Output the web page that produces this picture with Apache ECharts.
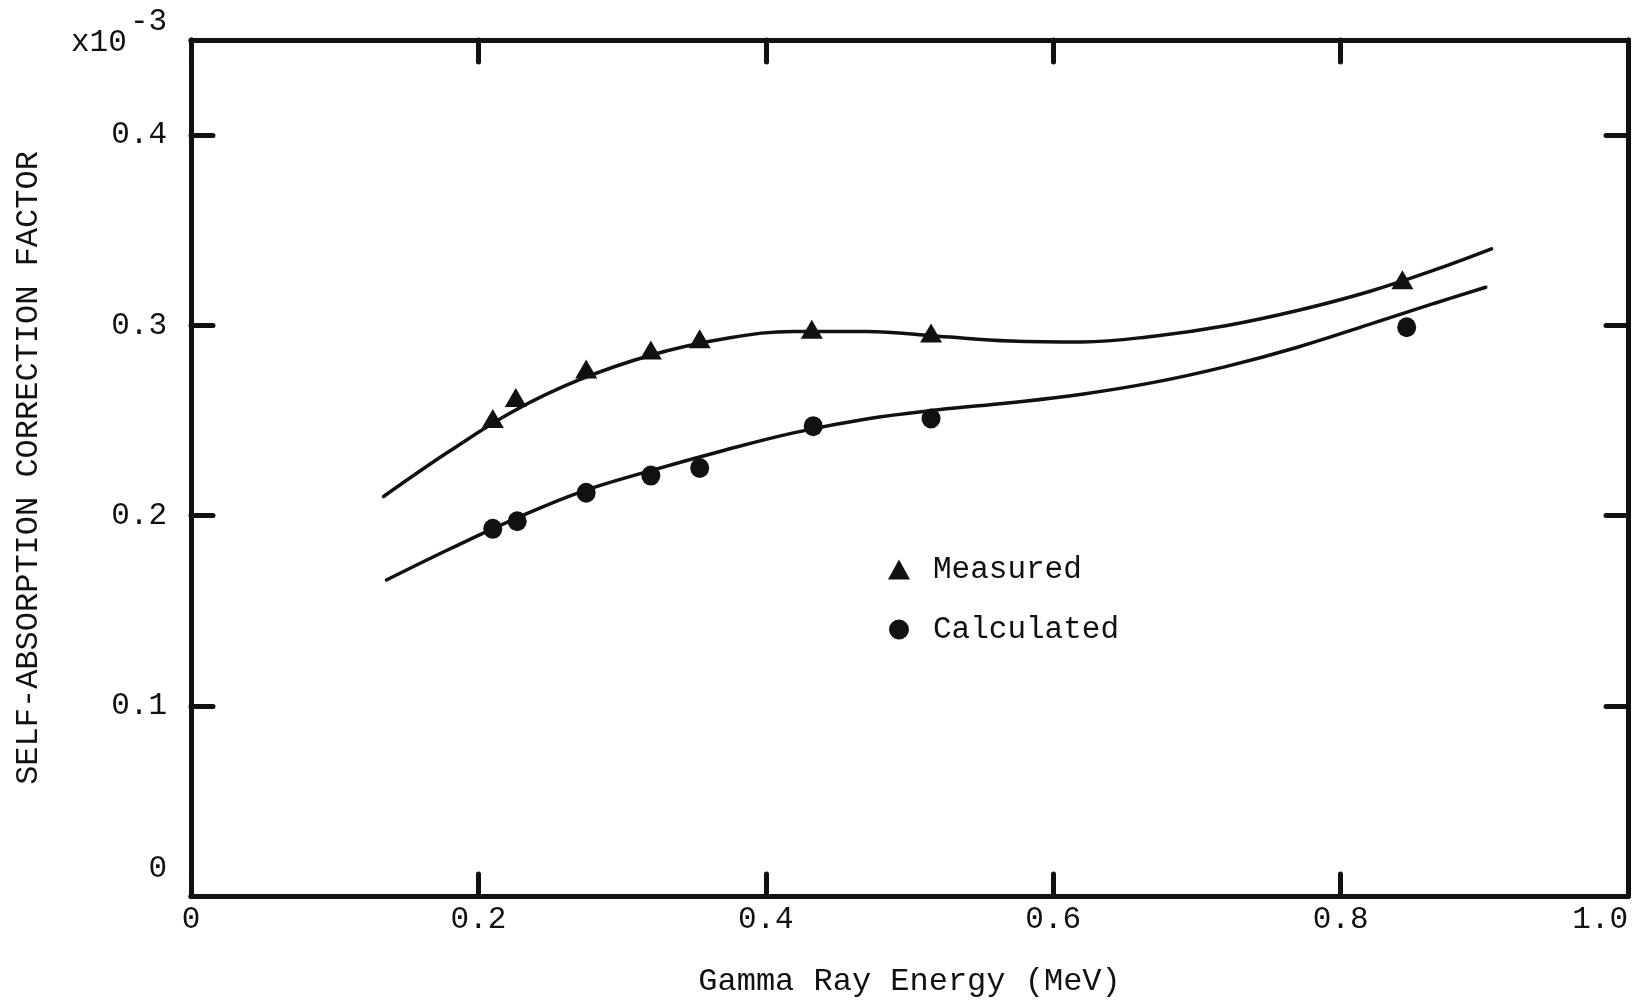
<!DOCTYPE html>
<html>
<head>
<meta charset="utf-8">
<title>Self-absorption correction factor vs gamma ray energy</title>
<script src="https://cdn.jsdelivr.net/npm/echarts@6/dist/echarts.min.js"></script>
<style>
  html, body { margin: 0; padding: 0; background: #fff; }
  #chart { width: 1634px; height: 1003px; }
</style>
</head>
<body>
<div id="chart"></div>
<script>
// Measured points (triangles): gamma energy in MeV, factor in units of 1e-3
const measuredEnergy = [0.210, 0.226, 0.275, 0.320, 0.354, 0.432, 0.515, 0.843];
const measuredFactor = [0.251, 0.262, 0.277, 0.287, 0.293, 0.298, 0.296, 0.324];

// Calculated points (circles)
const calculatedEnergy = [0.210, 0.227, 0.275, 0.320, 0.354, 0.433, 0.515, 0.846];
const calculatedFactor = [0.193, 0.197, 0.212, 0.221, 0.225, 0.247, 0.251, 0.299];

// Hand-fitted smooth curve through the measured points
const measuredFitEnergy = [0.134, 0.180, 0.225, 0.270, 0.320, 0.370, 0.420, 0.470, 0.520,
  0.570, 0.620, 0.670, 0.720, 0.770, 0.820, 0.865, 0.905];
const measuredFitFactor = [0.2100, 0.2339, 0.2551, 0.2713, 0.2843, 0.2928, 0.2968, 0.2968, 0.2943,
  0.2918, 0.2913, 0.2943, 0.2998, 0.3078, 0.3178, 0.3290, 0.3402];

// Hand-fitted smooth curve through the calculated points
const calculatedFitEnergy = [0.136, 0.180, 0.225, 0.270, 0.320, 0.370, 0.420, 0.470, 0.520,
  0.570, 0.620, 0.670, 0.720, 0.770, 0.820, 0.865, 0.901];
const calculatedFitFactor = [0.1661, 0.1824, 0.1981, 0.2121, 0.2236, 0.2341, 0.2436, 0.2508, 0.2556,
  0.2593, 0.2638, 0.2700, 0.2783, 0.2885, 0.3005, 0.3115, 0.3200];

// Axis ranges and tick steps
const xRange = [0, 1.0];
const xStep = 0.2;
const yRange = [0, 0.45];
const yStep = 0.1;

const FONT = "'Liberation Mono', 'Courier New', monospace";
const INK = '#111';

const pairs = (xs, ys) => xs.map((x, i) => [x, ys[i]]);

const frameLine = { show: true, onZero: false, lineStyle: { color: INK, width: 5, cap: 'round' } };
const innerTicks = { show: true, inside: true, length: 22, lineStyle: { color: INK, width: 5, cap: 'round' } };

const fmtX = v => (v === 0 ? '0' : v.toFixed(1));
const fmtY = v => {
  if (Math.abs(v / yStep - Math.round(v / yStep)) > 1e-6) return '';
  return v === 0 ? '0\n ' : v.toFixed(1);
};

const chart = echarts.init(document.getElementById('chart'), null, { renderer: 'canvas' });

chart.setOption({
  backgroundColor: '#fff',
  animation: false,
  textStyle: { fontFamily: FONT, color: INK },
  grid: { left: 191, right: 6, top: 40, bottom: 105, show: false },
  xAxis: [
    {
      type: 'value', min: xRange[0], max: xRange[1], interval: xStep,
      position: 'bottom',
      axisLine: frameLine, axisTick: innerTicks, splitLine: { show: false },
      axisLabel: { formatter: fmtX, fontSize: 31, fontFamily: FONT, color: INK, margin: 8, alignMaxLabel: 'right' },
      name: 'Gamma Ray Energy (MeV)', nameLocation: 'middle', nameGap: 70,
      nameTextStyle: { fontSize: 32, fontFamily: FONT, color: INK }
    },
    {
      type: 'value', min: xRange[0], max: xRange[1], interval: xStep,
      position: 'top',
      axisLine: frameLine, axisTick: innerTicks, splitLine: { show: false },
      axisLabel: { show: false }
    }
  ],
  yAxis: [
    {
      type: 'value', min: yRange[0], max: yRange[1], interval: yStep,
      position: 'left',
      axisLine: frameLine, axisTick: innerTicks, splitLine: { show: false },
      axisLabel: { formatter: fmtY, fontSize: 31, fontFamily: FONT, color: INK, margin: 24, lineHeight: 54 },
      name: 'SELF-ABSORPTION CORRECTION FACTOR', nameLocation: 'middle', nameGap: 146,
      nameTextStyle: { fontSize: 32, fontFamily: FONT, color: INK }
    },
    {
      type: 'value', min: yRange[0], max: yRange[1], interval: yStep,
      position: 'right',
      axisLine: frameLine, axisTick: innerTicks, splitLine: { show: false },
      axisLabel: { show: false }
    }
  ],
  legend: {
    orient: 'vertical', left: 883, top: 549,
    itemWidth: 22, itemHeight: 20, itemGap: 29,
    data: [{ name: 'Measured', icon: 'triangle' }, { name: 'Calculated', icon: 'circle' }],
    textStyle: { fontSize: 31, fontFamily: FONT, color: INK, padding: [0, 0, 0, 18], lineHeight: 20 }
  },
  graphic: [
    { type: 'text', left: 71, top: 27, style: { text: 'x10', font: "31px " + FONT, fill: INK } },
    { type: 'text', left: 130, top: 6, style: { text: '-3', font: "31px " + FONT, fill: INK } }
  ],
  series: [
    {
      name: 'Measured fit', type: 'line', xAxisIndex: 0, yAxisIndex: 0,
      data: pairs(measuredFitEnergy, measuredFitFactor),
      smooth: 0.4, showSymbol: false, silent: true,
      lineStyle: { color: INK, width: 3.5, cap: 'round' }
    },
    {
      name: 'Calculated fit', type: 'line', xAxisIndex: 0, yAxisIndex: 0,
      data: pairs(calculatedFitEnergy, calculatedFitFactor),
      smooth: 0.4, showSymbol: false, silent: true,
      lineStyle: { color: INK, width: 3.5, cap: 'round' }
    },
    {
      name: 'Measured', type: 'scatter', xAxisIndex: 0, yAxisIndex: 0,
      data: pairs(measuredEnergy, measuredFactor),
      symbol: 'triangle', symbolSize: [22, 19],
      itemStyle: { color: INK, opacity: 1 }
    },
    {
      name: 'Calculated', type: 'scatter', xAxisIndex: 0, yAxisIndex: 0,
      data: pairs(calculatedEnergy, calculatedFactor),
      symbol: 'circle', symbolSize: [19, 20],
      itemStyle: { color: INK, opacity: 1 }
    }
  ]
});
</script>
</body>
</html>
